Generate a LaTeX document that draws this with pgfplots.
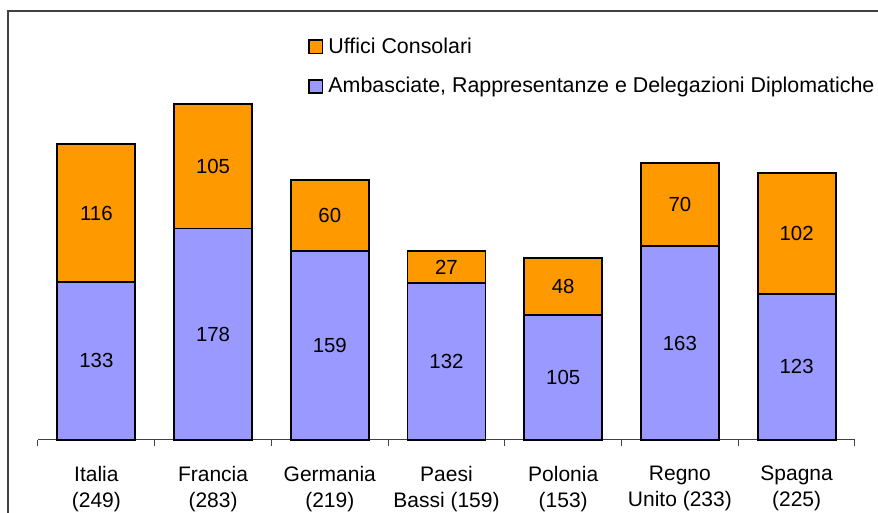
\documentclass[border=0pt]{standalone}
\usepackage{fontspec}
\setmainfont{Liberation Sans}
\usepackage{pgfplots}
\pgfplotsset{compat=1.18}
\definecolor{ambas}{HTML}{9999FF}
\definecolor{consol}{HTML}{FF9900}
\begin{document}
\begin{tikzpicture}
\useasboundingbox (-19pt,-36.5pt) rectangle (420pt,220pt);
\draw[black!75, line width=0.6pt] (-15pt,-60pt) -- (-15pt,214.5pt) -- (460pt,214.5pt);
\begin{axis}[
  scale only axis,
  width=408.5pt, height=214.5pt,
  xmin=-0.5, xmax=6.5, ymin=0, ymax=361,
  ybar stacked, bar width=39pt,
  axis x line=bottom, axis y line=none,
  axis line style={-, black!75, line width=0.5pt},
  xtick={0,...,6},
  xticklabels={{Italia\\(249)},{Francia\\(283)},{Germania\\(219)},{Paesi\\Bassi (159)},{Polonia\\(153)},{Regno\\Unito (233)},{Spagna\\(225)}},
  major tick length=0pt,
  extra x ticks={-0.5,0.5,...,6.5},
  extra x tick labels={},
  extra x tick style={major tick length=3pt, tick align=outside, tick style={black!75, line width=0.5pt}},
  xticklabel style={align=center, font=\fontsize{10.5}{13}\selectfont, yshift=-9.5pt},
  point meta=explicit symbolic,
  nodes near coords,
  every node near coord/.append style={anchor=center, font=\fontsize{10.2}{12}\selectfont, text=black},
  legend style={draw=none, fill=none, at={(0.3305,0.939)}, anchor=north west,
    font=\fontsize{10.7}{12}\selectfont, inner sep=0pt, row sep=10.5pt,
    nodes={inner sep=0pt},
    /tikz/every odd column/.append style={column sep=2.5pt}},
  legend cell align=left,
  legend image code/.code={\draw[#1, draw=black, line width=0.9pt] (0.45pt,-3.3pt) rectangle (7.05pt,3.3pt);},
  reverse legend,
  clip=false,
]
\addplot[fill=ambas, draw=black, line width=0.9pt] coordinates {
  (0,133)[133] (1,178)[178] (2,159)[159] (3,132)[132] (4,105)[105] (5,163)[163] (6,123)[123]};
\addlegendentry{Ambasciate, Rappresentanze e Delegazioni Diplomatiche}
\addplot[fill=consol, draw=black, line width=0.9pt] coordinates {
  (0,116)[116] (1,105)[105] (2,60)[60] (3,27)[27] (4,48)[48] (5,70)[70] (6,102)[102]};
\addlegendentry{Uffici Consolari}
\end{axis}
\end{tikzpicture}
\end{document}
